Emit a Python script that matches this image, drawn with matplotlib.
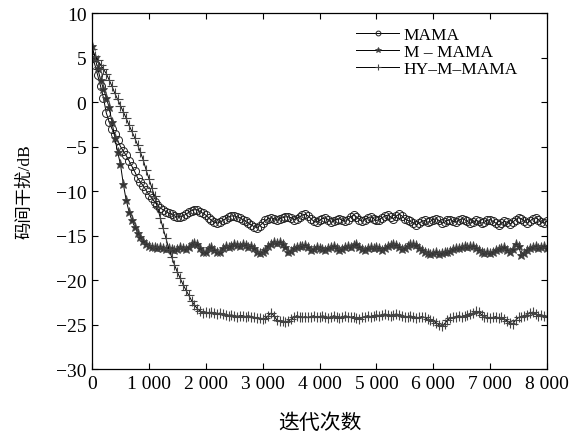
import numpy as np
import matplotlib
matplotlib.use('Agg')
import matplotlib.pyplot as plt
from matplotlib.ticker import FixedLocator

plt.rcParams['font.family'] = ['Liberation Serif', 'Noto Sans CJK SC']
plt.rcParams['axes.unicode_minus'] = True

# iteration grid (x values of the sampled points)
iters = np.arange(0, 8001, 50)

mama = [
    5.0, 4.2, 3.0, 1.8, 0.5, -1.2, -2.2, -3.0, -3.6, -4.3,
    -5.0, -5.5, -6.0, -6.6, -7.2, -7.8, -8.5, -9.0, -9.4, -9.9,
    -10.4, -10.8, -11.2, -11.6, -11.9, -12.1, -12.3, -12.5, -12.6, -12.8,
    -12.9, -12.9, -12.8, -12.6, -12.4, -12.2, -12.1, -12.1, -12.3, -12.5,
    -12.7, -13.0, -13.3, -13.5, -13.6, -13.5, -13.3, -13.1, -12.9, -12.8,
    -12.8, -12.9, -13.0, -13.2, -13.4, -13.6, -13.8, -14.0, -14.1, -13.9,
    -13.6, -13.3, -13.1, -13.0, -13.1, -13.3, -13.1, -13.0, -12.9, -12.9,
    -13.0, -13.2, -13.1, -12.9, -12.7, -12.6, -12.8, -13.1, -13.4, -13.5,
    -13.3, -13.1, -13.0, -13.2, -13.5, -13.4, -13.2, -13.1, -13.3, -13.4,
    -13.2, -12.9, -12.7, -12.9, -13.2, -13.4, -13.2, -13.0, -12.9, -13.1,
    -13.3, -13.2, -13.0, -12.8, -12.7, -12.9, -13.1, -12.8, -12.6, -12.8,
    -13.1, -13.3, -13.4, -13.6, -13.8, -13.6, -13.4, -13.3, -13.5, -13.4,
    -13.2, -13.1, -13.3, -13.6, -13.5, -13.3, -13.2, -13.4, -13.5, -13.3,
    -13.1, -13.2, -13.4, -13.6, -13.5, -13.3, -13.4, -13.6, -13.5, -13.3,
    -13.2, -13.4, -13.6, -13.8, -13.6, -13.4, -13.5, -13.7, -13.5, -13.2,
    -13.0, -13.1, -13.4, -13.6, -13.4, -13.1, -13.0, -13.2, -13.5, -13.6,
    -13.4,
]

m_mama = [
    6.3, 5.0, 3.8, 2.5, 1.5, 0.5, -0.6, -2.2, -4.0, -5.6,
    -7.0, -9.2, -11.0, -12.3, -13.3, -14.0, -14.7, -15.2, -15.6, -15.9,
    -16.2, -16.3, -16.3, -16.4, -16.3, -16.4, -16.5, -16.4, -16.5, -16.6,
    -16.5, -16.3, -16.4, -16.5, -16.3, -16.0, -15.8, -15.9, -16.4, -16.9,
    -16.8, -16.4, -16.3, -16.6, -16.9, -16.8, -16.4, -16.2, -16.3, -16.2,
    -16.0, -16.1, -16.2, -16.0, -16.1, -16.3, -16.2, -16.4, -16.8, -17.0,
    -16.9, -16.6, -16.2, -15.9, -15.7, -15.8, -15.7, -15.9, -16.3, -16.8,
    -16.7, -16.4, -16.3, -16.2, -16.2, -16.1, -16.3, -16.6, -16.5, -16.3,
    -16.4, -16.5, -16.6, -16.4, -16.3, -16.2, -16.4, -16.6, -16.5, -16.3,
    -16.2, -16.3, -16.1, -16.0, -16.3, -16.5, -16.6, -16.4, -16.3, -16.4,
    -16.3, -16.4, -16.6, -16.4, -16.2, -16.1, -16.0, -16.1, -16.3, -16.5,
    -16.4, -16.2, -16.0, -15.9, -16.1, -16.4, -16.6, -16.8, -17.0, -17.1,
    -17.0, -16.9, -17.1, -17.0, -16.8, -16.8, -16.7, -16.5, -16.4, -16.4,
    -16.3, -16.2, -16.3, -16.2, -16.2, -16.4, -16.6, -16.9, -17.0, -16.9,
    -17.0, -16.8, -16.6, -16.5, -16.4, -16.3, -16.6, -16.8, -16.5, -16.0,
    -16.2, -17.2, -17.0, -16.6, -16.4, -16.3, -16.2, -16.4, -16.3, -16.2,
    -16.4,
]

hy_m_mama = [
    6.0, 5.2, 4.7, 4.2, 3.7, 3.2, 2.5, 1.8, 1.0, 0.3,
    -0.4, -1.1, -1.8, -2.6, -3.3, -4.0, -4.8, -5.6, -6.5, -7.6,
    -8.6, -9.6, -10.6, -11.8, -13.0, -14.2, -15.3, -16.5, -17.4, -18.3,
    -19.1, -19.8, -20.5, -21.1, -21.7, -22.3, -22.8, -23.2, -23.5, -23.7,
    -23.6, -23.7, -23.6, -23.7, -23.8, -23.7, -23.8, -23.9, -24.0, -23.9,
    -24.0, -24.1, -24.0, -24.0, -24.1, -24.0, -24.1, -24.2, -24.3, -24.3,
    -24.4, -24.3, -24.0, -23.7, -24.0, -24.5, -24.6, -24.6, -24.7, -24.6,
    -24.4, -24.2, -24.0, -24.1, -24.2, -24.1, -24.2, -24.1, -24.0, -24.2,
    -24.2, -24.0, -24.1, -24.3, -24.2, -24.0, -24.1, -24.3, -24.2, -24.0,
    -24.1, -24.2, -24.1, -24.3, -24.4, -24.2, -24.1, -24.0, -24.1, -24.0,
    -23.9, -24.0, -23.9, -23.8, -23.9, -24.0, -23.9, -23.8, -23.9, -24.0,
    -24.2, -24.1, -24.0, -24.2, -24.3, -24.2, -24.1, -24.2, -24.4, -24.5,
    -24.6, -24.8, -25.0, -25.2, -24.9, -24.5, -24.3, -24.2, -24.1, -24.0,
    -24.1, -24.0, -23.9, -23.8, -23.7, -23.5, -23.6, -23.9, -24.1, -24.2,
    -24.3, -24.2, -24.1, -24.3, -24.2, -24.4, -24.6, -24.8, -24.9, -24.5,
    -24.2, -24.1, -24.0, -23.9, -23.7, -23.6, -23.8, -24.0, -23.9, -24.0,
    -24.1,
]

labels = ['MAMA', 'M – MAMA', 'HY–M–MAMA']
xticks = [0, 1000, 2000, 3000, 4000, 5000, 6000, 7000, 8000]
xticklabels = ['0', '1 000', '2 000', '3 000', '4 000', '5 000', '6 000', '7 000', '8 000']
yticks = [-30, -25, -20, -15, -10, -5, 0, 5, 10]

fig = plt.figure(figsize=(5.73, 4.39), dpi=100)
ax = fig.add_axes([0.1606, 0.157, 0.794, 0.811])

ax.plot(iters, mama, color='black', lw=0.7, marker='o', ms=5.8,
        mfc='none', mec='#222222', mew=0.7, label=labels[0])
ax.plot(iters, m_mama, color='black', lw=0.7, marker='*', ms=6.5,
        mfc='#333333', mec='#444444', mew=0.6, label=labels[1])
ax.plot(iters, hy_m_mama, color='black', lw=0.7, marker='+', ms=7.5,
        mec='#444444', mew=0.8, label=labels[2])

ax.set_xlim(0, 8000)
ax.set_ylim(-30, 10)
ax.xaxis.set_major_locator(FixedLocator(xticks))
ax.set_xticklabels(xticklabels)
ax.yaxis.set_major_locator(FixedLocator(yticks))
ax.tick_params(direction='in', top=True, right=True, length=4, width=0.8,
               labelsize=14, pad=4)
for s in ax.spines.values():
    s.set_linewidth(0.9)

ax.set_xlabel('迭代次数', fontsize=15, labelpad=16)
ax.set_ylabel('码间干扰/dB', fontsize=12.5, labelpad=16)

leg = ax.legend(loc='upper left', bbox_to_anchor=(0.565, 0.98), frameon=False,
                fontsize=12.5, numpoints=1, handlelength=2.5, handletextpad=0.25,
                labelspacing=0.05, markerscale=0.6, borderaxespad=0)

fig.savefig('out.png', dpi=100)
